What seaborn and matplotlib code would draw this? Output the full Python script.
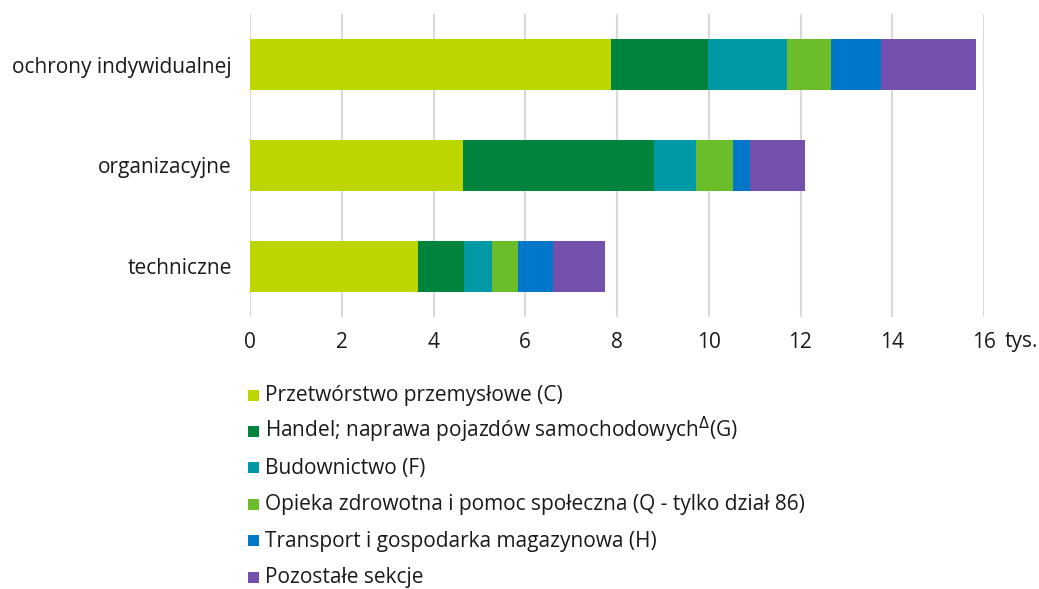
import matplotlib
matplotlib.use("Agg")
import matplotlib.pyplot as plt
import seaborn as sns
import numpy as np
from matplotlib.patches import Rectangle

categories = ["ochrony indywidualnej", "organizacyjne", "techniczne"]
sections = [
    "Przetwórstwo przemysłowe (C)",
    "Handel; naprawa pojazdów samochodowych$^{\\Delta}$(G)",
    "Budownictwo (F)",
    "Opieka zdrowotna i pomoc społeczna (Q - tylko dział 86)",
    "Transport i gospodarka magazynowa (H)",
    "Pozostałe sekcje",
]
przetworstwo = [7.86, 4.65, 3.67]
handel = [2.12, 4.15, 0.99]
budownictwo = [1.73, 0.93, 0.62]
opieka = [0.96, 0.80, 0.57]
transport = [1.09, 0.38, 0.75]
pozostale = [2.07, 1.18, 1.14]
colors = ["#BED600", "#00843D", "#009AA6", "#6BBE2A", "#0077C8", "#7451AD"]
xticks = [0, 2, 4, 6, 8, 10, 12, 14, 16]

sns.set_theme(style="white")
plt.rcParams["font.family"] = ["Open Sans", "DejaVu Sans"]
plt.rcParams["mathtext.fontset"] = "dejavusans"

series = [przetworstwo, handel, budownictwo, opieka, transport, pozostale]
cum = np.cumsum(np.array(series), axis=0)

W, H = 1039, 589
fig = plt.figure(figsize=(W / 100, H / 100), dpi=100)
ax = fig.add_axes([250 / W, 1 - 317 / H, 734 / W, 303 / H])

# stacked bars: draw cumulative totals from longest to shortest
for i in range(len(series) - 1, -1, -1):
    sns.barplot(x=cum[i], y=categories, orient="h", color=colors[i],
                width=0.5, saturation=1, ax=ax, linewidth=0)

txt = "#1a1a1a"
fs = 15
ax.set_xlim(0, 16)
ax.set_ylim(2.5, -0.5)
ax.set_xticks(xticks)
ax.set_xticklabels([str(t) for t in xticks], fontsize=fs, color=txt)
ax.tick_params(axis="y", labelsize=fs, pad=13, length=0, labelcolor=txt)
ax.tick_params(axis="x", pad=11, length=0)
ax.set_xlabel("")
ax.set_ylabel("")
ax.grid(axis="x", color="#D9D9D9", linewidth=1.5)
ax.set_axisbelow(True)
for s in ax.spines.values():
    s.set_visible(False)
ax.text(1005 / W, 1 - 342 / H, "tys.", transform=fig.transFigure,
        fontsize=fs, color=txt, va="center", ha="left")

# legend below the chart, one entry per row
for i, (lab, c) in enumerate(zip(sections, colors)):
    yc = 395 + i * 36.4
    fig.patches.append(Rectangle((248 / W, 1 - (yc + 5.5) / H), 11 / W, 11 / H,
                                 transform=fig.transFigure, facecolor=c,
                                 edgecolor="none"))
    fig.text(265 / W, 1 - (yc + 6) / H, lab, fontsize=fs, color=txt,
             va="baseline", ha="left")

fig.savefig("out.png", dpi=100)
